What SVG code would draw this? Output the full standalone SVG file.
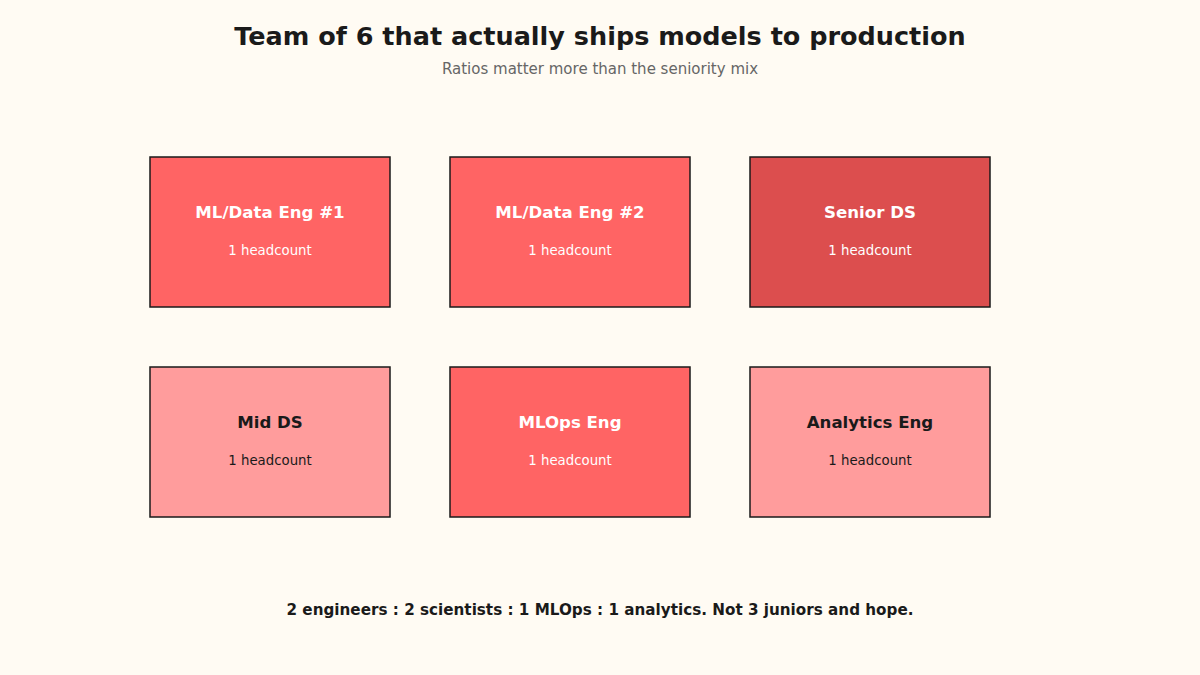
<svg xmlns="http://www.w3.org/2000/svg" width="1200" height="675" viewBox="0 0 1200 675">
<style>
text{font-family:"DejaVu Sans","Liberation Sans",sans-serif;text-anchor:middle}
.title{font-size:25.5px;font-weight:bold;fill:#1a1a1a}
.sub{font-size:15px;fill:#666}
.box{stroke:#1a1a1a;stroke-width:1.5}
.hot{fill:#ff6464}
.deep{fill:#dc4e4e}
.soft{fill:#ff9c9c}
.nt{font-size:16.6px;font-weight:bold}
.ns{font-size:13.3px}
.light{fill:#ffffff}
.dark{fill:#1a1a1a}
.foot{font-size:15.2px;font-weight:bold;fill:#1a1a1a}
</style>
<rect width="1200" height="675" fill="#fffbf3"/>
<text class="title" x="600" y="45">Team of 6 that actually ships models to production</text>
<text class="sub" x="600" y="74">Ratios matter more than the seniority mix</text>
<g id="connectors"></g>
<g id="node-mleng1">
<rect class="box hot" x="150" y="157" width="240" height="150"/>
<text class="nt light" x="270" y="218">ML/Data Eng #1</text>
<text class="ns light" x="270" y="255">1 headcount</text>
</g>
<g id="node-mleng2">
<rect class="box hot" x="450" y="157" width="240" height="150"/>
<text class="nt light" x="570" y="218">ML/Data Eng #2</text>
<text class="ns light" x="570" y="255">1 headcount</text>
</g>
<g id="node-seniords">
<rect class="box deep" x="750" y="157" width="240" height="150"/>
<text class="nt light" x="870" y="218">Senior DS</text>
<text class="ns light" x="870" y="255">1 headcount</text>
</g>
<g id="node-midds">
<rect class="box soft" x="150" y="367" width="240" height="150"/>
<text class="nt dark" x="270" y="428">Mid DS</text>
<text class="ns dark" x="270" y="465">1 headcount</text>
</g>
<g id="node-mlops">
<rect class="box hot" x="450" y="367" width="240" height="150"/>
<text class="nt light" x="570" y="428">MLOps Eng</text>
<text class="ns light" x="570" y="465">1 headcount</text>
</g>
<g id="node-analytics">
<rect class="box soft" x="750" y="367" width="240" height="150"/>
<text class="nt dark" x="870" y="428">Analytics Eng</text>
<text class="ns dark" x="870" y="465">1 headcount</text>
</g>
<text class="foot" x="600" y="615">2 engineers : 2 scientists : 1 MLOps : 1 analytics. Not 3 juniors and hope.</text>
</svg>
